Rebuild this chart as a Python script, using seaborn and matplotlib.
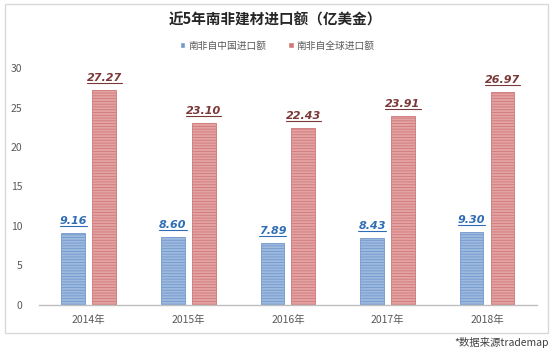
import numpy as np
import pandas as pd
import matplotlib
matplotlib.use("Agg")
import matplotlib.pyplot as plt
from matplotlib.lines import Line2D
from matplotlib.patches import Rectangle
import seaborn as sns

sns.set_theme(style="white")
plt.rcParams['font.family'] = ['Noto Sans CJK SC', 'DejaVu Sans']
plt.rcParams['hatch.linewidth'] = 0.6

# data
years = ['2014年', '2015年', '2016年', '2017年', '2018年']
series = ['南非自中国进口额', '南非自全球进口额']
from_china = [9.16, 8.60, 7.89, 8.43, 9.30]
from_world = [27.27, 23.10, 22.43, 23.91, 26.97]
yticks = [0, 5, 10, 15, 20, 25, 30]

df = pd.DataFrame({
    'year': years * 2,
    'series': [series[0]] * len(years) + [series[1]] * len(years),
    'value': from_china + from_world,
})

face = ['#9DB9DE', '#E4A3A3']
stripe = ['#7399CE', '#CF7878']
label_col = ['#2E6DB4', '#7A3838']

fig = plt.figure(figsize=(5.54, 3.57), dpi=100)
ax = fig.add_axes([0.0704, 0.1457, 0.8986, 0.6638])

sns.barplot(data=df, x='year', y='value', hue='series', palette=face,
            width=0.62, gap=0.23, ax=ax, legend=False, saturation=1)

for i, cont in enumerate(ax.containers):
    for p in cont:
        p.set_hatch('------')
        p.set_edgecolor(stripe[i])
        p.set_linewidth(0.6)

labels = []
for i, cont in enumerate(ax.containers):
    labels += ax.bar_label(cont, fmt='%.2f', padding=5, fontsize=8,
                           family=['DejaVu Sans'], style='italic',
                           fontweight='bold', color=label_col[i])

ax.set_ylim(0, 30)
ax.set_yticks(yticks)
ax.set_xlim(-0.5, 4.5)
ax.set_xlabel('')
ax.set_ylabel('')
for s in ['top', 'right', 'left']:
    ax.spines[s].set_visible(False)
ax.spines['bottom'].set_color('#BFBFBF')
ax.spines['bottom'].set_linewidth(1)
ax.tick_params(axis='y', length=0, pad=12, labelsize=7.5, labelcolor='#595959')
ax.tick_params(axis='x', length=0, pad=7, labelsize=7.5, labelcolor='#595959')

fig.text(0.497, 0.945, '近5年南非建材进口额（亿美金）', ha='center', va='center',
         fontsize=10.5, fontweight='bold', color='#262626')

handles = [Rectangle((0, 0), 1, 1, facecolor=stripe[0]),
           Rectangle((0, 0), 1, 1, facecolor=stripe[1])]
fig.legend(handles, series, loc='center', bbox_to_anchor=(0.5, 0.872), ncol=2,
           frameon=False, fontsize=7, handlelength=0.6, handleheight=0.6,
           handletextpad=0.3, columnspacing=2.2, labelcolor='#595959')

fig.text(0.99, 0.04, '*数据来源trademap', ha='right', va='center',
         fontsize=7.5, color='#404040')

# light grey chart frame
fig.patches.append(Rectangle((5 / 554, 1 - 333 / 357), 543 / 554, 329 / 357,
                             transform=fig.transFigure, fill=False,
                             edgecolor='#D9D9D9', linewidth=1))

# underline the value labels
fig.canvas.draw()
for t in labels:
    bb = t.get_window_extent()
    fig.add_artist(Line2D([bb.x0, bb.x1], [bb.y0, bb.y0], transform=None,
                          color=t.get_color(), linewidth=0.8))

fig.savefig('out.png', dpi=100)
